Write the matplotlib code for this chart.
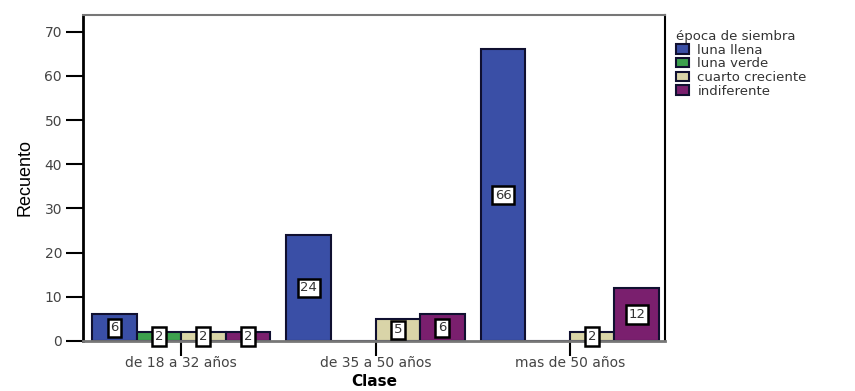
import matplotlib.pyplot as plt
import numpy as np

plt.rcParams['font.family'] = ['DejaVu Sans']

# recuentos por clase de edad y época de siembra
clases = ["de 18 a 32 años", "de 35 a 50 años", "mas de 50 años"]
epocas = ["luna llena", "luna verde", "cuarto creciente", "indiferente"]
luna_llena = [6, 24, 66]
luna_verde = [2, 0, 0]
cuarto_creciente = [2, 5, 2]
indiferente = [2, 6, 12]

series = [luna_llena, luna_verde, cuarto_creciente, indiferente]
colores = ["#3a4fa6", "#3ca04e", "#d9d4a8", "#7a1f6e"]

fig = plt.figure(figsize=(8.55, 3.91), dpi=100)
ax = fig.add_axes([0.097, 0.128, 0.681, 0.834])

x = np.arange(len(clases))
w = 0.229
for i, (vals, col, nom) in enumerate(zip(series, colores, epocas)):
    pos = x + (i - 1.5) * w
    ax.bar(pos, vals, width=w, color=col, edgecolor="#101030", linewidth=1.5, label=nom)
    for p, v in zip(pos, vals):
        if v > 0:
            ax.text(p, v / 2, str(v), ha="center", va="center", fontsize=9.5,
                    color="#333333",
                    bbox=dict(boxstyle="square,pad=0.2", fc="white", ec="black", lw=1.8))

ax.set_xlim(-0.505, 2.49)
ax.set_ylim(0, 73.8)
ax.set_yticks(range(0, 71, 10))
ax.set_xticks(x)
ax.set_xticklabels(clases, fontsize=10, color="#444444")
ax.tick_params(axis="y", labelsize=10, length=12, width=1.5, pad=3, labelcolor="#444444")
ax.tick_params(axis="x", length=11, width=1.5, pad=0)

ax.spines["left"].set_linewidth(2)
ax.spines["right"].set_linewidth(1.5)
ax.spines["top"].set_color("#777777")
ax.spines["top"].set_linewidth(1.5)
ax.spines["bottom"].set_color("#777777")
ax.spines["bottom"].set_linewidth(2)

ax.set_ylabel("Recuento", fontsize=13, family="Liberation Sans", labelpad=8)
ax.set_xlabel("Clase", fontsize=11, fontweight="bold", labelpad=3)

leg = ax.legend(title="época de siembra", loc="upper left", bbox_to_anchor=(1.01, 0.97),
                frameon=False, fontsize=9.5, title_fontsize=9.5, handlelength=1.0,
                handleheight=0.7, labelspacing=0.05, borderaxespad=0, handletextpad=0.6)
leg._legend_box.align = "left"
for t in leg.get_texts() + [leg.get_title()]:
    t.set_color("#333333")

fig.savefig("out.png", dpi=100)
